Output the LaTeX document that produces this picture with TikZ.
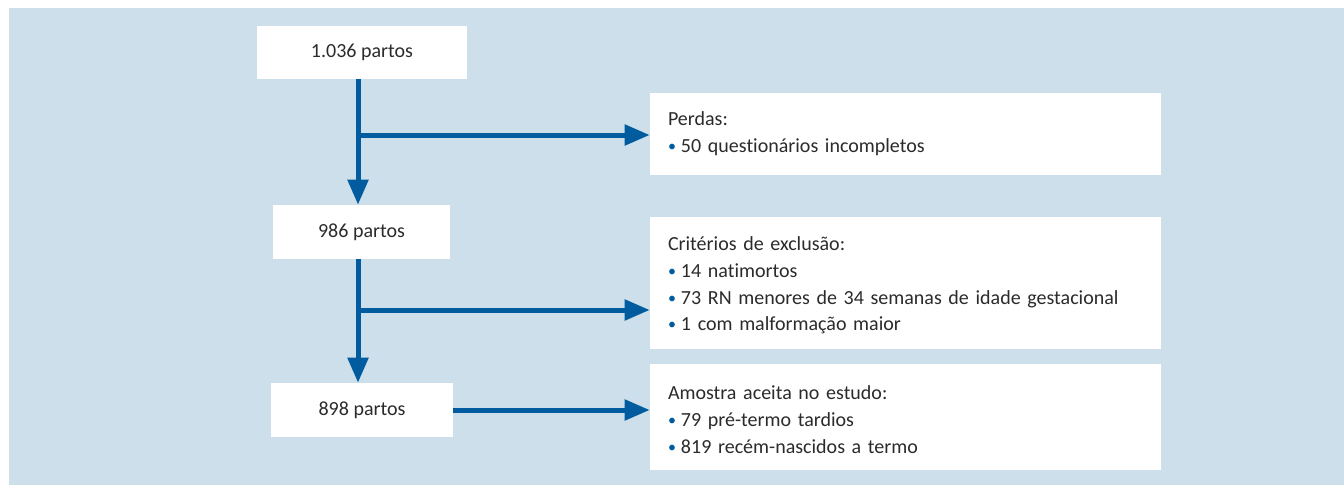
\documentclass[tikz,border=0pt]{standalone}
\usepackage{fontspec}
\setmainfont[Ligatures=NoCommon]{Carlito}
\usetikzlibrary{arrows.meta}
\definecolor{bgblue}{HTML}{CCDFEA}
\definecolor{flowblue}{HTML}{005C9E}
\definecolor{txtgray}{HTML}{2B2B2B}
\newcommand{\bul}{\textcolor{flowblue}{\raisebox{0.1ex}{\scalebox{0.8}{\textbullet}}}\hspace{0.25em}}
\begin{document}
\begin{tikzpicture}[x=0.75pt,y=-0.75pt,
  every node/.style={font=\fontsize{15}{20}\selectfont, text=txtgray},
  midbox/.style={fill=white, draw=none, inner sep=0pt, align=center},
  sidebox/.style={fill=white, draw=none, inner ysep=0pt, inner xsep=13.5pt,
    minimum width=383.25pt, text width=356.25pt, align=left},
  flow/.style={draw=flowblue, line width=3.75pt},
  flowarrow/.style={flow, -{Triangle[length=18.75pt,width=15pt]}}
]
\useasboundingbox (0,0) rectangle (1344,485);
\fill[bgblue] (9,8) rectangle (1344,485);

\node[midbox, minimum width=157.5pt, minimum height=39.75pt] (b1) at (362,52.5) {1.036 partos};
\node[midbox, minimum width=132.75pt, minimum height=40.5pt] (b2) at (361.5,232) {986 partos};
\node[midbox, minimum width=136.5pt, minimum height=40.5pt] (b3) at (362,410) {898 partos};

\node[sidebox, minimum height=61.5pt] (perdas) at (905.5,134) {Perdas:\\\bul 50 questionários incompletos};
\node[sidebox, minimum height=99pt] (crit) at (905.5,283) {\raisebox{0pt}[\height][\depth]{}Critérios de exclusão:\\\bul 14 natimortos\\\bul 73 RN menores de 34 semanas de idade gestacional\\\bul 1 com malformação maior\vspace{-4pt}};
\node[sidebox, minimum height=79.5pt] (amostra) at (905.5,417) {Amostra aceita no estudo:\\\bul 79 pré-termo tardios\\\bul 819 recém-nascidos a termo\vspace{-4pt}};

\coordinate (v) at (358,0);
\coordinate (j1) at (358,135);
\coordinate (j2) at (358,310);

\draw[flowarrow] (v |- b1.south) -- (v |- b2.north);
\draw[flowarrow] (v |- b2.south) -- (v |- b3.north);
\draw[flowarrow] (j1) -- (j1 -| perdas.west);
\draw[flowarrow] (j2) -- (j2 -| crit.west);
\draw[flowarrow] (b3.east) -- (b3.east -| amostra.west);
\end{tikzpicture}
\end{document}
